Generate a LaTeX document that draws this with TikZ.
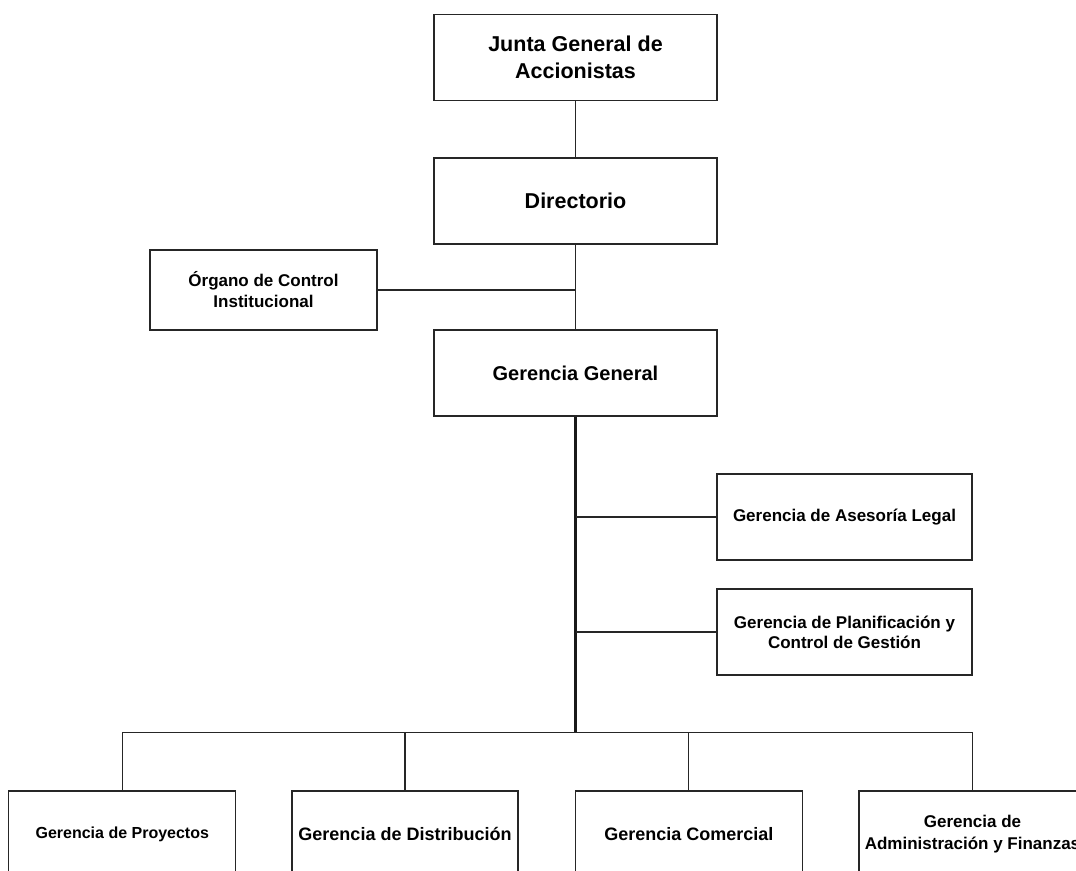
\documentclass[tikz,border=0pt]{standalone}
\usepackage{fontspec}
\setmainfont{Liberation Sans}
\begin{document}
\begin{tikzpicture}[x=1pt,y=-1pt,
  box/.style={draw=black!85, line width=1.3pt, rectangle, inner sep=0pt, align=center, font=\bfseries},
  conn/.style={draw=black!85, line width=1.3pt},
  trunk/.style={draw=black!90, line width=3pt}]
\useasboundingbox (0,0) rectangle (1076,870);
\clip (0,0) rectangle (1076,870);
\node[box, minimum width=283pt, minimum height=86pt, font=\bfseries\fontsize{21.5}{27}\selectfont] (junta) at (575.5,57.5) {Junta General de\\Accionistas};
\node[box, minimum width=283pt, minimum height=86pt, font=\bfseries\fontsize{21.5}{27}\selectfont] (dir) at (575.5,201) {Directorio};
\node[box, minimum width=227pt, minimum height=80pt, font=\bfseries\fontsize{17}{21}\selectfont] (organo) at (263.5,290) {Órgano de Control\\Institucional};
\node[box, minimum width=283pt, minimum height=86pt, font=\bfseries\fontsize{20}{24}\selectfont] (gg) at (575.5,373) {Gerencia General};
\node[box, minimum width=255pt, minimum height=86pt, font=\bfseries\fontsize{17}{20}\selectfont] (ases) at (844.5,517) {Gerencia de Asesoría Legal};
\node[box, minimum width=255pt, minimum height=86pt, font=\bfseries\fontsize{17}{20}\selectfont] (plan) at (844.5,632) {Gerencia de Planificación y\\Control de Gestión};
\node[box, minimum width=227pt, minimum height=86pt, font=\bfseries\fontsize{16}{20}\selectfont] (proy) at (122.3,834) {Gerencia de Proyectos};
\node[box, minimum width=226pt, minimum height=86pt, font=\bfseries\fontsize{18}{22}\selectfont] (dist) at (405,834) {Gerencia de Distribución};
\node[box, minimum width=227pt, minimum height=86pt, font=\bfseries\fontsize{18}{22}\selectfont] (com) at (688.8,834) {Gerencia Comercial};
\node[box, minimum width=227pt, minimum height=86pt, font=\bfseries\fontsize{17}{21.5}\selectfont] (adm) at (972.5,834) {Gerencia de\\Administración y Finanzas};
\coordinate (bus) at (575.5,732.5);
\draw[conn] (junta.south) -- (dir.north);
\draw[conn] (dir.south) -- (gg.north);
\draw[conn] (organo.east) -- (organo.east -| dir.south);
\draw[trunk] (gg.south) -- (bus);
\draw[conn] (ases.west) -- (ases.west -| gg.south);
\draw[conn] (plan.west) -- (plan.west -| gg.south);
\draw[conn] (proy.north) -- (proy.north |- bus) -- (adm.north |- bus) -- (adm.north);
\draw[conn] (dist.north) -- (dist.north |- bus);
\draw[conn] (com.north) -- (com.north |- bus);
\end{tikzpicture}
\end{document}
